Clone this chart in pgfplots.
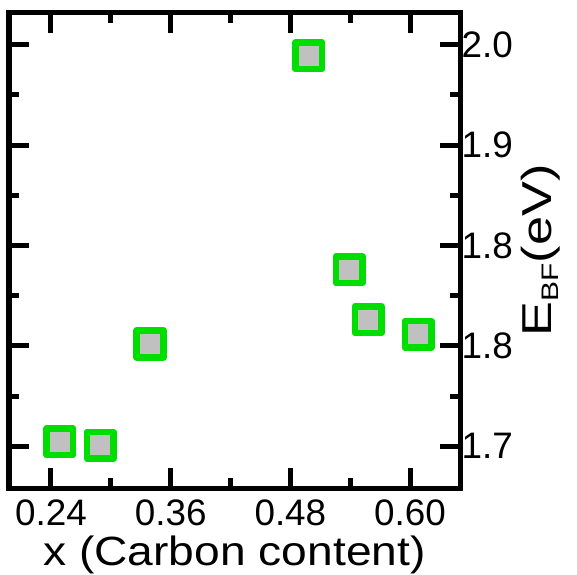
\documentclass[border=0pt]{standalone}
\usepackage{graphicx}
\usepackage{pgfplots}
\pgfplotsset{compat=1.18}
\usepackage{fontspec}
\setmainfont{Liberation Sans}

\definecolor{markgreen}{RGB}{0,221,0}
\definecolor{markgray}{RGB}{192,192,192}

\begin{document}
\begin{tikzpicture}
\begin{axis}[
  scale only axis,
  width=451bp, height=475bp,
  xmin=0.198, xmax=0.650,
  ymin=1.695, ymax=1.979,
  axis line style={line width=5bp, line join=miter},
  tick align=inside,
  xtick pos=both, ytick pos=both,
  xticklabel pos=lower, yticklabel pos=right,
  xtick={0.24,0.36,0.48,0.60},
  xticklabels={0.24,0.36,0.48,0.60},
  minor xtick={0.30,0.42,0.54},
  ytick={1.72,1.78,1.84,1.90,1.96},
  yticklabels={1.7,1.8,1.8,1.9,2.0},
  minor ytick={1.75,1.81,1.87,1.93},
  major tick length=20bp,
  minor tick length=10bp,
  tick style={line width=5bp, black},
  ticklabel style={font=\fontsize{37}{40}\selectfont, inner sep=0pt},
  xticklabel style={anchor=north, yshift=-12bp},
  yticklabel style={anchor=west, xshift=1.5bp},
  every axis x label/.style={at={(axis description cs:0.5,0)}, anchor=base, yshift=-77bp, inner sep=0pt, font=\fontsize{41}{44}\selectfont},
  every axis y label/.style={at={(axis description cs:1.178,0.5)}, rotate=90, anchor=center, inner sep=0pt, font=\fontsize{42}{46}\selectfont},
  xlabel={\scalebox{1.13}[1]{x (Carbon content)}},
  ylabel={\scalebox{1.25}[1]{E\raisebox{-7bp}{\fontsize{24}{26}\selectfont BF}(eV)}},
]
% formation energy versus carbon content
\addplot[only marks, mark=square*, mark size=13.3bp,
  mark options={draw=markgreen, fill=markgray, line width=6.5bp, line join=round}]
  coordinates {
    (0.249,1.7226)
    (0.2895,1.7205)
    (0.3393,1.7811)
    (0.4985,1.9534)
    (0.539,1.8255)
    (0.558,1.7957)
    (0.608,1.7869)
  };
\end{axis}
\pgfresetboundingbox
\useasboundingbox ([shift={(-9bp,-87bp)}]current axis.south west) rectangle ([shift={(117bp,13bp)}]current axis.north east);
\end{tikzpicture}
\end{document}
